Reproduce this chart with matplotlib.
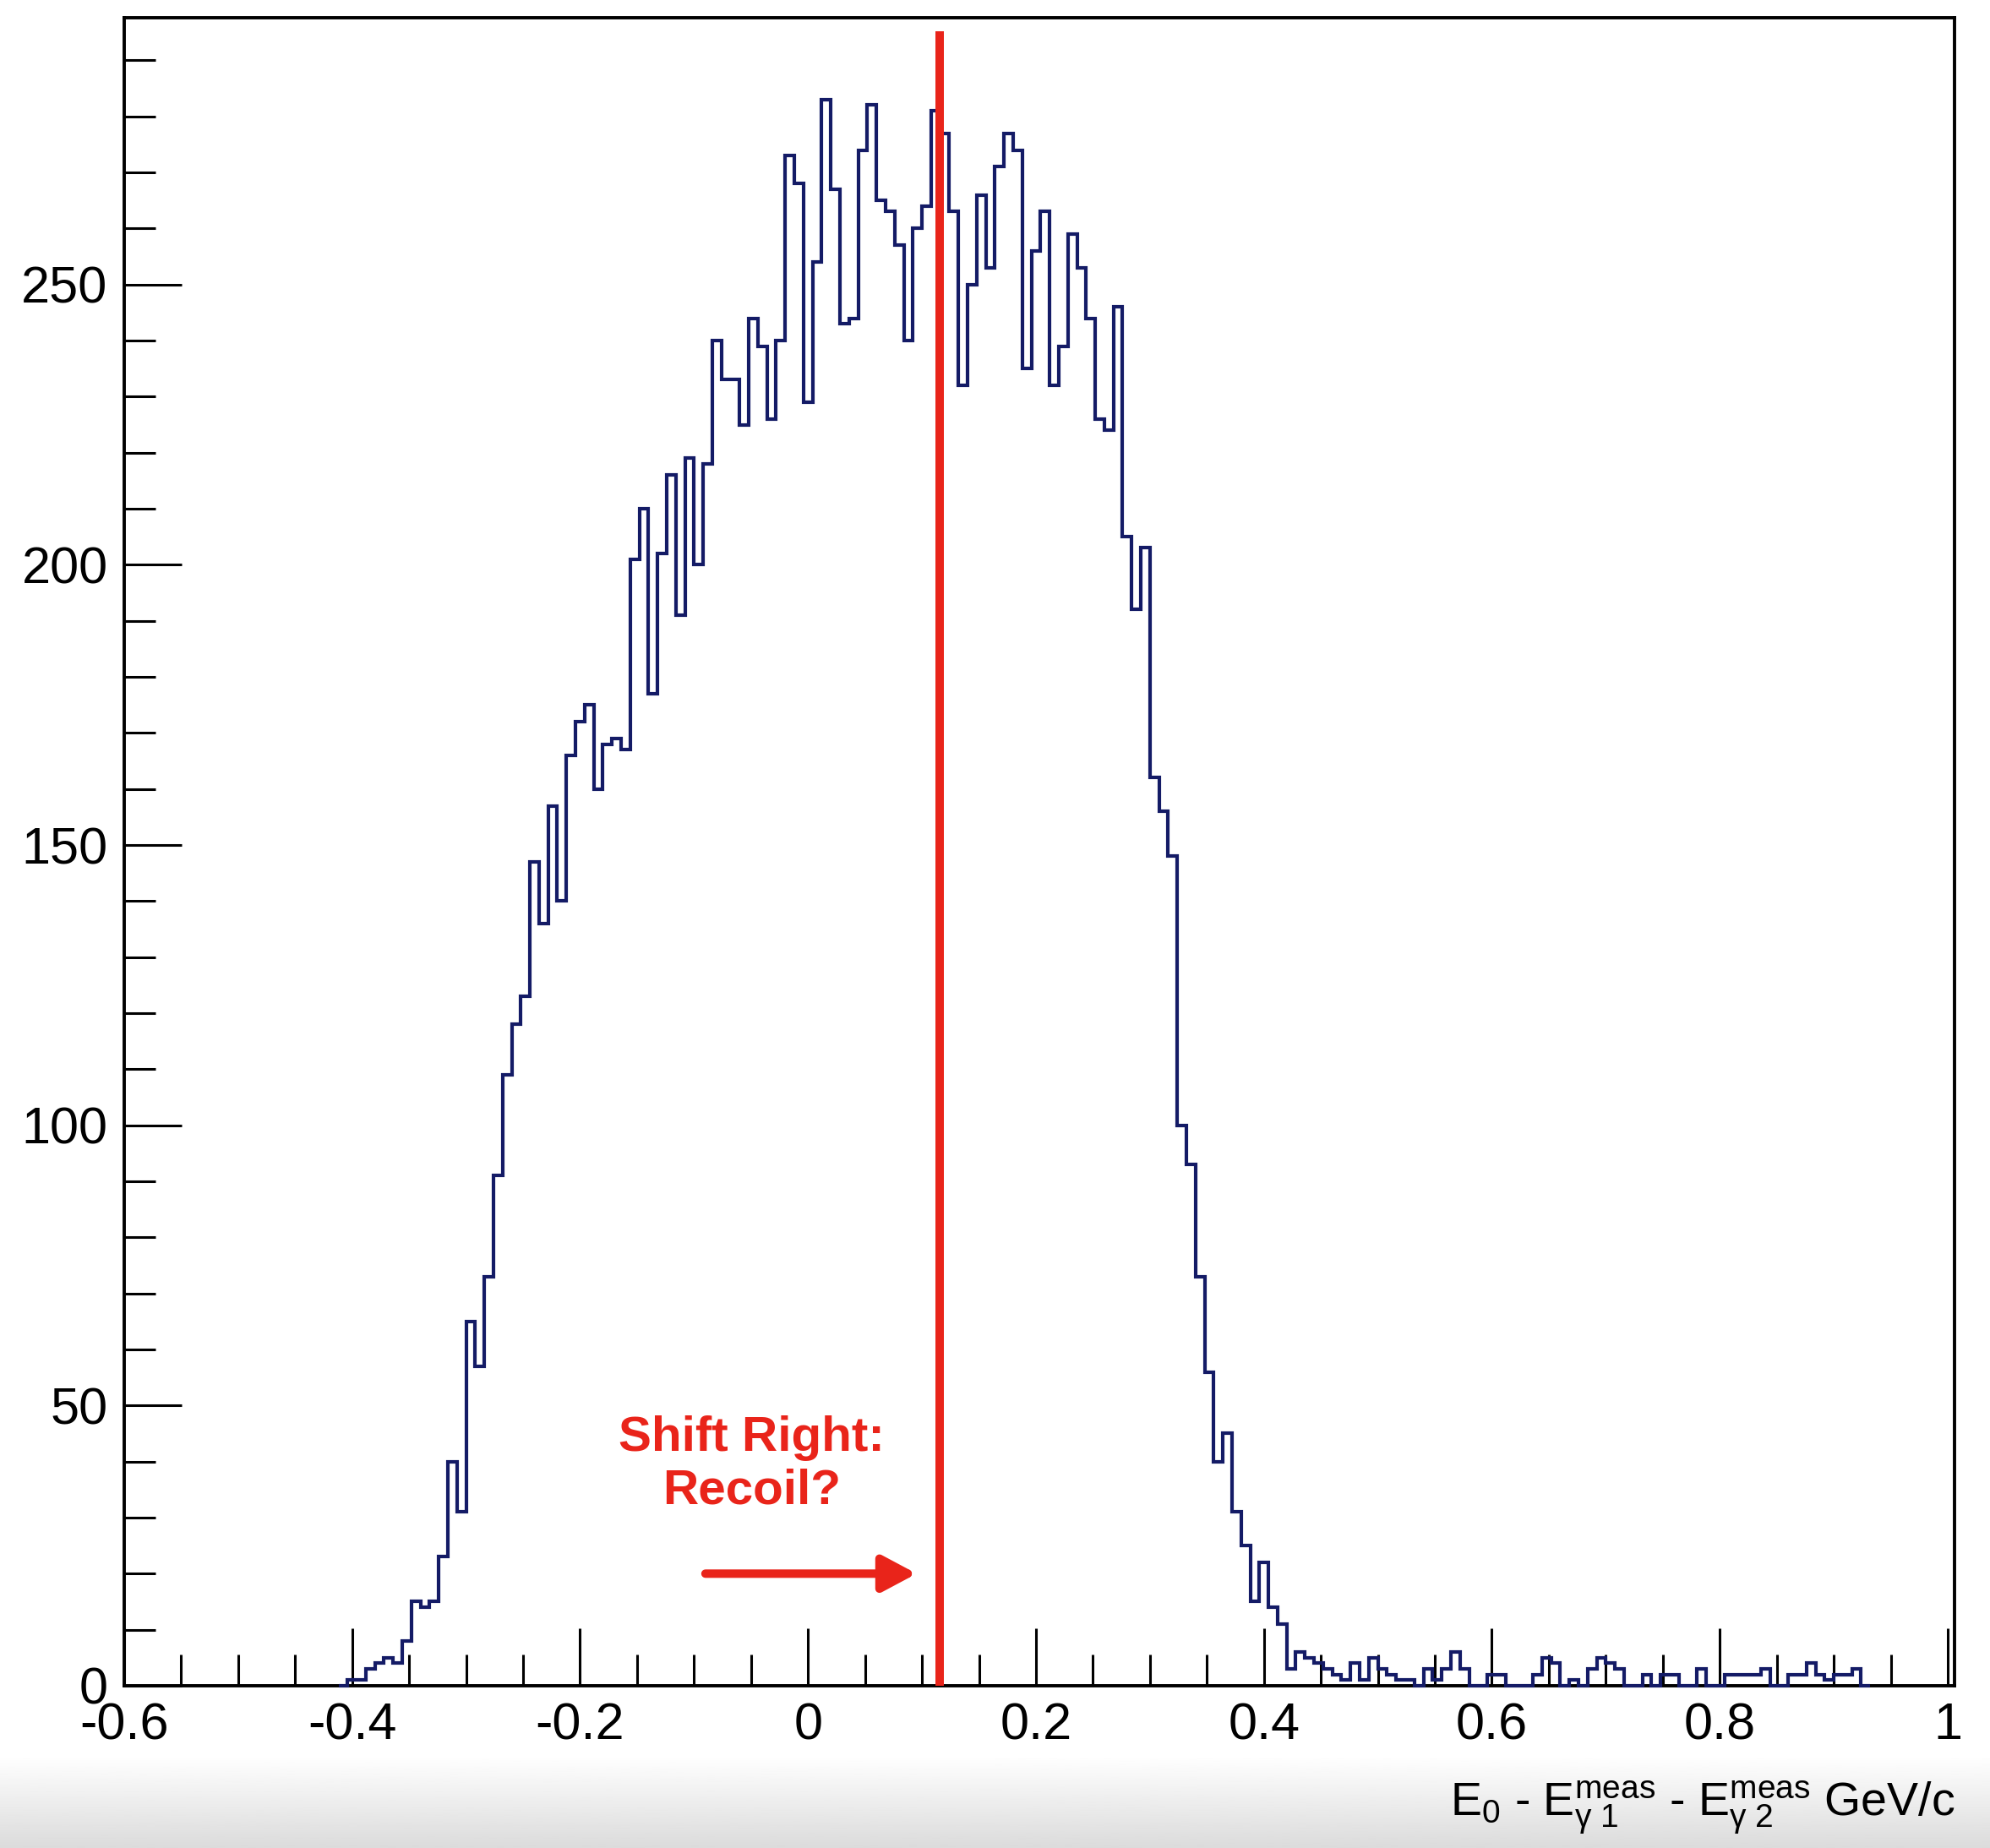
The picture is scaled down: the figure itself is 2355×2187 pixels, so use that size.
import numpy as np
import matplotlib
matplotlib.use('Agg')
import matplotlib.pyplot as plt
from matplotlib import font_manager
from matplotlib.ticker import MultipleLocator

# Binning: 200 bins of 0.008
BIN_LO = -0.604
BIN_HI = 0.996
N_BINS = 200
FIRST_BIN = 24

# bin contents, bin 24 .. 68 (rising edge)
rise_counts = [0, 1, 1, 3, 4, 5, 4, 8, 15, 14, 15, 23, 40, 31, 65, 57, 73, 91,
               109, 118, 123, 147, 136, 157, 140, 166, 172, 175, 160, 168, 169,
               167, 201, 210, 177, 202, 216, 191, 219, 200, 218, 240, 233, 233,
               225]
# bin 69 .. 109 (plateau)
peak_counts = [244, 239, 226, 240, 273, 268, 229, 254, 283, 267, 243, 244, 274,
               282, 265, 263, 257, 240, 260, 264, 281, 277, 263, 232, 250, 266,
               253, 271, 277, 274, 235, 256, 263, 232, 239, 259, 253, 244, 226,
               224, 246]
# bin 110 .. 127 (falling edge)
fall_counts = [205, 192, 203, 162, 156, 148, 100, 93, 73, 56, 40, 45, 31, 25,
               15, 22, 14, 11]
# bin 128 .. 191 (tail)
tail_counts = [3, 6, 5, 4, 3, 2, 1, 4, 1, 5, 3, 2, 1, 1, 0, 3, 1, 3, 6, 3, 0, 0,
               2, 2, 0, 0, 0, 2, 5, 4, 0, 1, 0, 3, 5, 4, 3, 0, 0, 2, 0, 2, 2, 0,
               0, 3, 0, 0, 2, 2, 2, 2, 3, 0, 0, 2, 2, 4, 2, 1, 2, 2, 3, 0]

x_ticks = [-0.6, -0.4, -0.2, 0, 0.2, 0.4, 0.6, 0.8, 1]
x_tick_labels = ['-0.6', '-0.4', '-0.2', '0', '0.2', '0.4', '0.6', '0.8', '1']
y_ticks = [0, 50, 100, 150, 200, 250]
y_tick_labels = ['0', '50', '100', '150', '200', '250']

# annotation
SHIFT_X = 0.1156
SHIFT_TOP = 295.2
ARROW_FROM = (-0.090, 20.0)
ARROW_TO = (0.0953, 20.0)
NOTE_POS = (-0.0494, 39.5)
NOTE_TEXT = "Shift Right:\nRecoil?"
X_LABEL = (r"$\mathregular{E_{0}}$ - $\mathregular{E_{\gamma\ 1}^{meas}}$"
           r" - $\mathregular{E_{\gamma\ 2}^{meas}}$ GeV/c")

HIST_COLOR = '#141b66'
RED = '#e9241a'

# narrow font if available, looks closer to the squeezed ROOT labels
names = {f.name for f in font_manager.fontManager.ttflist}
if 'Liberation Sans Narrow' in names:
    tick_font, tick_size, label_size = 'Liberation Sans Narrow', 50, 46
else:
    tick_font, tick_size, label_size = 'Liberation Sans', 44, 40

plt.rcParams['font.family'] = [tick_font, 'DejaVu Sans']
plt.rcParams['mathtext.fontset'] = 'custom'
plt.rcParams['mathtext.rm'] = tick_font
plt.rcParams['mathtext.it'] = tick_font
plt.rcParams['mathtext.bf'] = tick_font
plt.rcParams['axes.unicode_minus'] = False

counts = np.array(rise_counts + peak_counts + fall_counts + tail_counts, float)
edges = np.linspace(BIN_LO, BIN_HI, N_BINS + 1)
edges = edges[FIRST_BIN:FIRST_BIN + len(counts) + 1]

fig = plt.figure(figsize=(23.55, 21.87), dpi=100)
fig.patch.set_facecolor('white')

# grey fade at the bottom of the screenshot
bg = fig.add_axes([0, 0, 1, 0.05])
bg.set_zorder(-1)
grad = np.linspace(1.0, 0.86, 100).reshape(-1, 1)
bg.imshow(grad, aspect='auto', cmap='gray', vmin=0, vmax=1,
          extent=[0, 1, 0, 1], origin='upper')
bg.axis('off')

ax = fig.add_axes([0.0624, 0.0878, 0.9198, 0.9026])
ax.stairs(counts, edges, color=HIST_COLOR, lw=3.0, zorder=3, clip_on=False)

ax.set_xlim(-0.6, 1.006)
ax.set_ylim(0, 297.6)

ax.set_xticks(x_ticks, x_tick_labels)
ax.set_yticks(y_ticks, y_tick_labels)
ax.xaxis.set_minor_locator(MultipleLocator(0.05))
ax.yaxis.set_minor_locator(MultipleLocator(10))

ax.tick_params(which='both', direction='in', top=False, right=False,
               width=2.2, labelsize=tick_size)
ax.tick_params(which='major', length=49)
ax.tick_params(which='minor', length=26.5)
ax.tick_params(axis='x', pad=14)
ax.tick_params(axis='y', pad=14)
for s in ax.spines.values():
    s.set_linewidth(2.8)

ax.text(1.0, -0.078, X_LABEL, transform=ax.transAxes, ha='right',
        va='baseline', fontsize=label_size)

# red marker line and note
ax.plot([SHIFT_X, SHIFT_X], [0, SHIFT_TOP], color=RED, lw=7.2,
        solid_capstyle='butt', zorder=4, clip_on=False)
ax.annotate('', xy=ARROW_TO, xytext=ARROW_FROM,
            arrowprops=dict(arrowstyle='-|>,head_length=0.6,head_width=0.32',
                            mutation_scale=40, lw=7.2, color=RED,
                            shrinkA=0, shrinkB=0))
ax.text(*NOTE_POS, NOTE_TEXT, ha='center', va='center', color=RED,
        fontsize=42, fontweight='bold', family='Liberation Sans')

fig.savefig('out.png', dpi=100)
